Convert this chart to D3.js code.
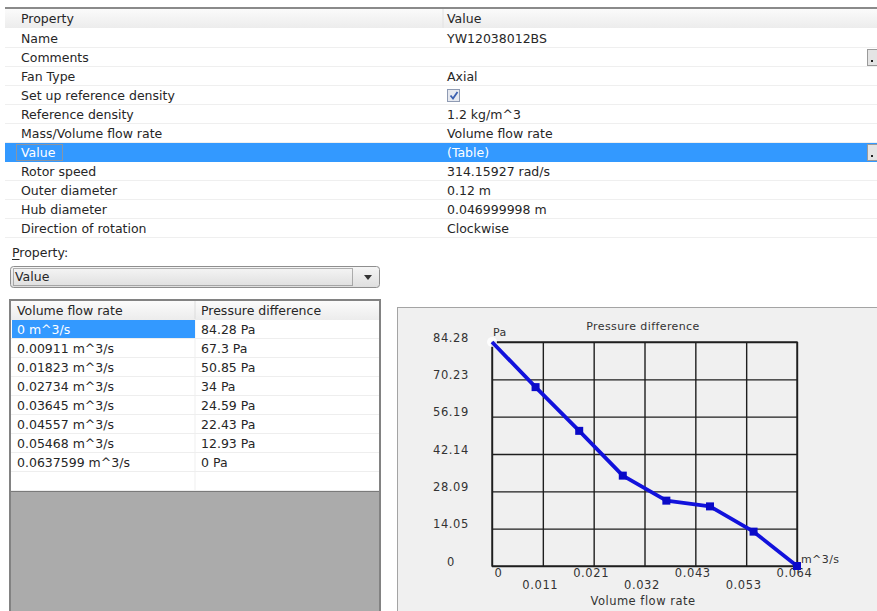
<!DOCTYPE html>
<html>
<head>
<meta charset="utf-8">
<script src="https://cdn.jsdelivr.net/npm/d3@7"></script>
<style>
  html, body { margin: 0; padding: 0; background: #ffffff; }
  svg { display: block; }
  text { font-family: "DejaVu Sans", sans-serif; }
</style>
</head>
<body>
<svg id="root" width="877" height="611"></svg>
<script>
// ---------- data ----------
const propNames = ["Name", "Comments", "Fan Type", "Set up reference density", "Reference density",
  "Mass/Volume flow rate", "Value", "Rotor speed", "Outer diameter", "Hub diameter", "Direction of rotation"];
const propValues = ["YW12038012BS", "", "Axial", "", "1.2 kg/m^3", "Volume flow rate", "(Table)",
  "314.15927 rad/s", "0.12 m", "0.046999998 m", "Clockwise"];
const flowRates = [0, 0.00911, 0.01823, 0.02734, 0.03645, 0.04557, 0.05468, 0.0637599];
const pressures = [84.28, 67.3, 50.85, 34, 24.59, 22.43, 12.93, 0];
const yTickLabels = ["0", "14.05", "28.09", "42.14", "56.19", "70.23", "84.28"];
const xTickLabels = ["0", "0.011", "0.021", "0.032", "0.043", "0.053", "0.064"];

const svg = d3.select("#root");
const defs = svg.append("defs");
const g1 = defs.append("linearGradient").attr("id", "hdr").attr("x1", 0).attr("y1", 0).attr("x2", 0).attr("y2", 1);
g1.append("stop").attr("offset", "0%").attr("stop-color", "#fbfbfb");
g1.append("stop").attr("offset", "100%").attr("stop-color", "#ececec");
const g2 = defs.append("linearGradient").attr("id", "combo").attr("x1", 0).attr("y1", 0).attr("x2", 0).attr("y2", 1);
g2.append("stop").attr("offset", "0%").attr("stop-color", "#f6f6f6");
g2.append("stop").attr("offset", "100%").attr("stop-color", "#dedede");

const TXT = "#262626";
const FS = 12.5;

// ---------- property grid ----------
const gridLeft = 5, gridRight = 877, rowH = 19, hdrTop = 9, rowTop = 29, colX = 443;
svg.append("rect").attr("x", gridLeft).attr("y", 7).attr("width", gridRight - gridLeft).attr("height", 2).attr("fill", "#8a8a8a");
svg.append("rect").attr("x", gridLeft).attr("y", hdrTop).attr("width", gridRight - gridLeft).attr("height", rowH).attr("fill", "url(#hdr)");
svg.append("line").attr("x1", colX).attr("x2", colX).attr("y1", hdrTop).attr("y2", hdrTop + rowH).attr("stroke", "#e2e2e2");
svg.append("text").attr("x", 21).attr("y", hdrTop + 14).attr("font-size", FS).attr("fill", TXT).text("Property");
svg.append("text").attr("x", 447).attr("y", hdrTop + 14).attr("font-size", FS).attr("fill", TXT).text("Value");

const rows = svg.append("g");
propNames.forEach((name, i) => {
  const top = rowTop + i * rowH;
  const sel = name === "Value";
  rows.append("rect").attr("x", gridLeft).attr("y", top).attr("width", gridRight - gridLeft).attr("height", rowH)
    .attr("fill", sel ? "#3399ff" : "#ffffff");
  rows.append("line").attr("x1", gridLeft).attr("x2", gridRight).attr("y1", top + rowH - 0.5).attr("y2", top + rowH - 0.5)
    .attr("stroke", sel ? "#3399ff" : "#efefef");
  rows.append("text").attr("x", 21).attr("y", top + 14).attr("font-size", FS).attr("fill", sel ? "#ffffff" : TXT).text(name);
  rows.append("text").attr("x", 447).attr("y", top + 14).attr("font-size", FS).attr("fill", sel ? "#ffffff" : TXT).text(propValues[i]);
  if (sel) {
    rows.append("rect").attr("x", 16.5).attr("y", top + 1.5).attr("width", 46).attr("height", rowH - 3)
      .attr("fill", "none").attr("stroke", "#e0904a").attr("stroke-dasharray", "1,1");
  }
  if (name === "Comments" || sel) {
    rows.append("rect").attr("x", 867.5).attr("y", top + 1.5).attr("width", 12).attr("height", rowH - 3)
      .attr("fill", "#e4e4e4").attr("stroke", "#9a9a9a");
    rows.append("rect").attr("x", 871).attr("y", top + 12).attr("width", 2).attr("height", 2).attr("fill", "#222");
  }
  if (name === "Set up reference density") {
    rows.append("rect").attr("x", 447.5).attr("y", top + 3.5).attr("width", 12).attr("height", 12)
      .attr("fill", "#e6e9f0").attr("stroke", "#8f9bb3");
    rows.append("path").attr("d", `M450.5,${top + 9.5} L453,${top + 12.5} L457.5,${top + 6}`)
      .attr("fill", "none").attr("stroke", "#3a5fb0").attr("stroke-width", 1.8);
  }
});

// ---------- property combo ----------
svg.append("text").attr("x", 12).attr("y", 257).attr("font-size", FS).attr("fill", TXT).text("Property:");
svg.append("line").attr("x1", 12).attr("x2", 19.5).attr("y1", 259.5).attr("y2", 259.5).attr("stroke", TXT);
svg.append("rect").attr("x", 10.5).attr("y", 266.5).attr("width", 369).attr("height", 21).attr("rx", 3)
  .attr("fill", "url(#combo)").attr("stroke", "#8e8e8e");
svg.append("rect").attr("x", 13.5).attr("y", 268.5).attr("width", 339).attr("height", 17)
  .attr("fill", "none").attr("stroke", "#6a6a6a").attr("stroke-dasharray", "1,1");
svg.append("text").attr("x", 15).attr("y", 281).attr("font-size", FS).attr("fill", TXT).text("Value");
svg.append("path").attr("d", "M364,275 L372,275 L368,280 Z").attr("fill", "#333");

// ---------- data table ----------
const tL = 10, tR = 380, tTop = 300, tHdrH = 19, tRowH = 19, tCol = 195;
svg.append("rect").attr("x", tL).attr("y", tTop).attr("width", tR - tL).attr("height", 611 - tTop + 5).attr("fill", "#ababab").attr("stroke", "#828282").attr("stroke-width", 2);
svg.append("rect").attr("x", tL + 1).attr("y", tTop + 1).attr("width", tR - tL - 2).attr("height", tHdrH).attr("fill", "url(#hdr)");
svg.append("line").attr("x1", tCol).attr("x2", tCol).attr("y1", tTop + 1).attr("y2", tTop + tHdrH).attr("stroke", "#dcdcdc");
svg.append("text").attr("x", 17).attr("y", tTop + 15).attr("font-size", FS).attr("fill", TXT).text("Volume flow rate");
svg.append("text").attr("x", 201).attr("y", tTop + 15).attr("font-size", FS).attr("fill", TXT).text("Pressure difference");
const bodyTop = tTop + tHdrH + 1;
const nRows = flowRates.length + 1;
svg.append("rect").attr("x", tL + 1).attr("y", bodyTop).attr("width", tR - tL - 2).attr("height", nRows * tRowH).attr("fill", "#ffffff");
svg.append("line").attr("x1", tL + 1).attr("x2", tR - 1).attr("y1", bodyTop + nRows * tRowH + 0.5).attr("y2", bodyTop + nRows * tRowH + 0.5).attr("stroke", "#7a7a7a");
svg.append("line").attr("x1", tCol).attr("x2", tCol).attr("y1", bodyTop).attr("y2", bodyTop + nRows * tRowH).attr("stroke", "#efefef");
for (let i = 0; i < nRows; i++) {
  const top = bodyTop + i * tRowH;
  svg.append("line").attr("x1", tL + 1).attr("x2", tR - 1).attr("y1", top + tRowH - 0.5).attr("y2", top + tRowH - 0.5).attr("stroke", "#eeeeee");
  if (i < flowRates.length) {
    if (i === 0) svg.append("rect").attr("x", tL + 2).attr("y", top).attr("width", tCol - tL - 2).attr("height", tRowH - 1).attr("fill", "#3399ff");
    svg.append("text").attr("x", 17).attr("y", top + 14).attr("font-size", FS).attr("fill", i === 0 ? "#ffffff" : TXT).text(`${flowRates[i]} m^3/s`);
    svg.append("text").attr("x", 201).attr("y", top + 14).attr("font-size", FS).attr("fill", TXT).text(`${pressures[i]} Pa`);
  }
}

// ---------- chart panel ----------
svg.append("rect").attr("x", 397.5).attr("y", 307.5).attr("width", 485).attr("height", 310).attr("fill", "#f0f0f0").attr("stroke", "#a4a4a4");

const pL = 492, pR = 797, pT = 342, pB = 566;
const xMax = d3.max(flowRates), yMax = d3.max(pressures);
const x = d3.scaleLinear().domain([0, xMax]).range([pL, pR]);
const y = d3.scaleLinear().domain([0, yMax]).range([pB, pT]);
const xTicks = xTickLabels.map((_, i) => xMax * i / (xTickLabels.length - 1));
const yTicks = yTickLabels.map((_, i) => yMax * i / (yTickLabels.length - 1));

const LBL = "#333333";
const yAxis = svg.append("g").attr("transform", `translate(${pL},0)`)
  .call(d3.axisLeft(y).tickValues(yTicks).tickFormat((d, i) => yTickLabels[i]).tickSize(-(pR - pL)).tickSizeOuter(0));
yAxis.select(".domain").remove();
yAxis.selectAll(".tick line").attr("stroke", "#1e1e1e").attr("stroke-width", 1.4);
yAxis.selectAll(".tick text").attr("x", 451 - pL).attr("dy", null).attr("y", -1).attr("text-anchor", "middle")
  .attr("font-family", "DejaVu Sans").attr("font-size", 11.5).attr("letter-spacing", 0.6).attr("fill", LBL);

const xAxis = svg.append("g").attr("transform", `translate(0,${pB})`)
  .call(d3.axisBottom(x).tickValues(xTicks).tickFormat((d, i) => xTickLabels[i]).tickSize(-(pB - pT)).tickSizeOuter(0));
xAxis.select(".domain").remove();
xAxis.selectAll(".tick line").attr("stroke", "#1e1e1e").attr("stroke-width", 1.4);
xAxis.selectAll(".tick text")
  .attr("y", (d, i) => i % 2 === 0 ? 11 : 23)
  .attr("dy", null)
  .attr("x", (d, i) => i === 0 ? 6 : -3)
  .attr("font-family", "DejaVu Sans").attr("font-size", 11.5).attr("letter-spacing", 0.6).attr("fill", LBL);

svg.append("rect").attr("x", pL).attr("y", pT).attr("width", pR - pL).attr("height", pB - pT)
  .attr("fill", "none").attr("stroke", "#1e1e1e").attr("stroke-width", 1.4);

svg.append("text").attr("x", 643).attr("y", 330).attr("text-anchor", "middle").attr("font-size", 11).attr("letter-spacing", 0.4).attr("fill", LBL).text("Pressure difference");
svg.append("text").attr("x", 493).attr("y", 336).attr("font-size", 11).attr("letter-spacing", 0.4).attr("fill", LBL).text("Pa");
svg.append("text").attr("x", 801).attr("y", 563).attr("font-size", 11).attr("letter-spacing", 0.4).attr("fill", LBL).text("m^3/s");
svg.append("text").attr("x", 643).attr("y", 605).attr("text-anchor", "middle").attr("font-size", 11.5).attr("letter-spacing", 0.5).attr("fill", LBL).text("Volume flow rate");

const pts = flowRates.map((f, i) => [f, pressures[i]]);
svg.append("circle").attr("cx", x(pts[0][0])).attr("cy", y(pts[0][1])).attr("r", 5).attr("fill", "#ffffff").attr("opacity", 0.85);
svg.append("path").datum(pts)
  .attr("d", d3.line().x(d => x(d[0])).y(d => y(d[1])))
  .attr("fill", "none").attr("stroke", "#1212dc").attr("stroke-width", 3.8).attr("stroke-linejoin", "round");
svg.selectAll(".mk").data(pts.slice(1)).enter().append("rect").attr("class", "mk")
  .attr("x", d => x(d[0]) - 4).attr("y", d => y(d[1]) - 4).attr("width", 8).attr("height", 8)
  .attr("fill", "#0a0ac8");
</script>
</body>
</html>
